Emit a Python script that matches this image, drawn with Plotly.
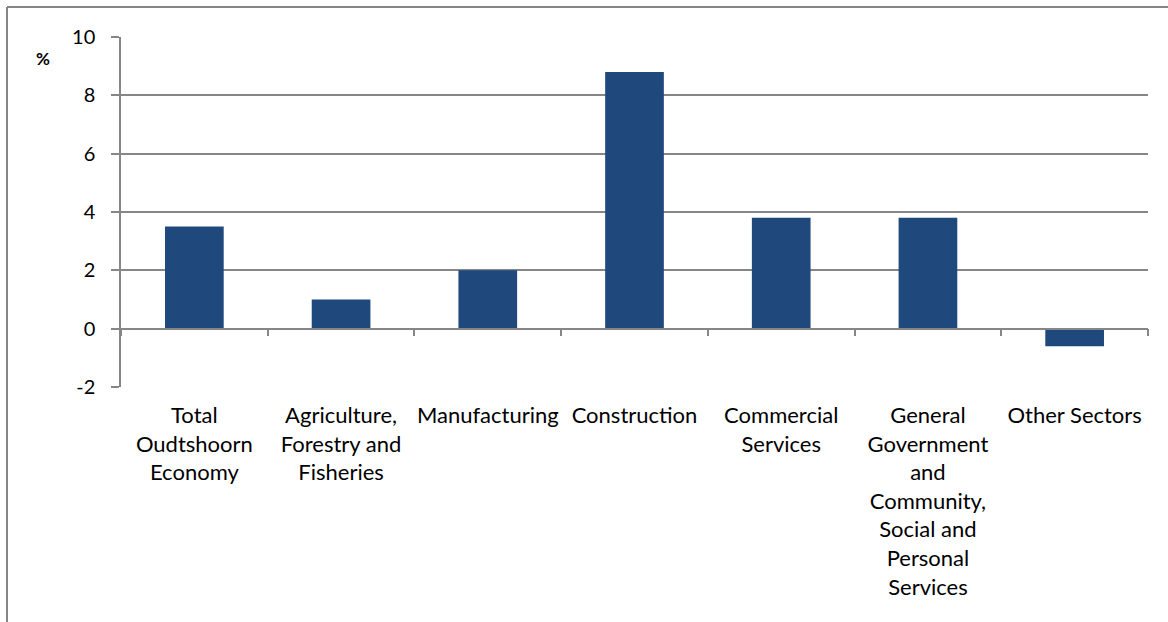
import plotly.graph_objects as go

categories = [
    "Total<br>Oudtshoorn<br>Economy",
    "Agriculture,<br>Forestry and<br>Fisheries",
    "Manufacturing",
    "Construction",
    "Commercial<br>Services",
    "General<br>Government<br>and<br>Community,<br>Social and<br>Personal<br>Services",
    "Other Sectors",
]
values = [3.5, 1.0, 2.0, 8.8, 3.8, 3.8, -0.6]
y_ticks = [-2, 0, 2, 4, 6, 8, 10]
y_tick_text = ["-2", "0", "2", "4", "6", "8", "10"]

GRID = "#868686"
BAR = "#1F497D"
FONT = "Lato"

W, H = 1168, 622
L, R, T, B = 121, 20, 37, 235
pw, ph = W - L - R, H - T - B

fig = go.Figure()
fig.add_trace(go.Bar(x=categories, y=values, marker_color=BAR, width=0.4,
                     marker_line_width=0, showlegend=False, hoverinfo="y"))
# invisible trace to activate the category axis drawn through zero
fig.add_trace(go.Scatter(x=categories, y=[0] * len(categories), xaxis="x2",
                         mode="markers", marker_opacity=0, showlegend=False,
                         hoverinfo="skip"))

y0 = y_ticks[0]
y1 = y_ticks[-1]
fig.update_layout(
    width=W, height=H,
    margin=dict(l=L, r=R, t=T, b=B),
    paper_bgcolor="white", plot_bgcolor="white",
    font=dict(family=FONT, size=20, color="black"),
    bargap=0.6,
    xaxis=dict(
        type="category", showgrid=False, showline=False, ticks="",
        tickson="boundaries", tickfont=dict(size=22), zeroline=False,
        ticklabelstandoff=13,
    ),
    xaxis2=dict(
        type="category", overlaying="x", matches="x", anchor="free",
        position=(0 - y0) / (y1 - y0), side="bottom",
        showline=True, linecolor=GRID, linewidth=1.5,
        ticks="outside", ticklen=7, tickcolor=GRID, tickwidth=1.5,
        tickson="boundaries", showticklabels=False, showgrid=False,
    ),
    yaxis=dict(
        range=[y0, y1], tickvals=y_ticks, ticktext=y_tick_text,
        showgrid=True, gridcolor=GRID,
        gridwidth=1.5, showline=True, linecolor=GRID, linewidth=1.5,
        ticks="outside", ticklen=8, tickcolor=GRID, tickwidth=1.5,
        zeroline=False, tickfont=dict(size=20), ticklabelstandoff=12,
    ),
    annotations=[dict(
        text="<b>%</b>", xref="paper", yref="paper",
        x=(43 - L) / pw, y=(H - B - 58) / ph, showarrow=False,
        font=dict(size=17), xanchor="center", yanchor="middle",
    )],
    shapes=[
        dict(type="line", xref="paper", yref="paper",
             x0=(7 - L) / pw, x1=(7 - L) / pw, y0=(H - B - 7) / ph, y1=(H - B - 640) / ph,
             line=dict(color=GRID, width=2)),
        dict(type="line", xref="paper", yref="paper",
             x0=(7 - L) / pw, x1=(1180 - L) / pw, y0=(H - B - 7) / ph, y1=(H - B - 7) / ph,
             line=dict(color=GRID, width=2)),
    ],
)

fig.write_html("out.html", config={"displayModeBar": False},
               post_script="document.body.style.margin='0';")
